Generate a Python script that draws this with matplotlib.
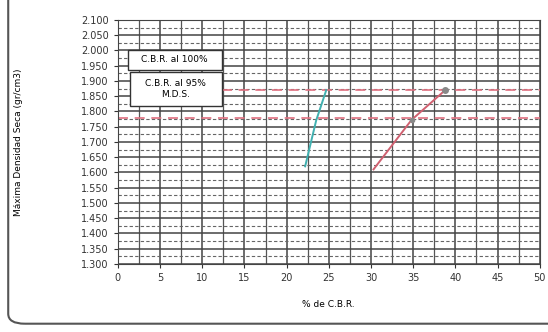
import matplotlib.pyplot as plt
from matplotlib.patches import FancyBboxPatch, Rectangle
import numpy as np

# CBR (%) vs dry density (g/cm3)
cbr_a = [22.2, 23.5, 24.7]
dens_a = [1.620, 1.770, 1.870]
cbr_b = [30.3, 34.8, 38.8]
dens_b = [1.610, 1.772, 1.870]
mds = 1.870
mds_95 = 1.778

xticks = np.arange(0, 51, 5)
yticks = np.arange(1.30, 2.101, 0.05)

fig = plt.figure(figsize=(5.48, 3.32), dpi=100)
ax = fig.add_axes([0.215, 0.205, 0.77, 0.735])

ax.set_xlim(0, 50)
ax.set_ylim(1.30, 2.10)
ax.set_xticks(xticks)
ax.set_yticks(yticks)
ax.set_yticklabels(["%.3f" % v for v in yticks])
ax.set_xticks(np.arange(2.5, 50, 5), minor=True)
ax.set_yticks(np.arange(1.325, 2.10, 0.05), minor=True)
ax.tick_params(labelsize=7, length=3, colors='#333333')
ax.tick_params(which='minor', length=0)
ax.grid(True, which='major', color='#444444', lw=1.1)
ax.xaxis.grid(True, which='minor', color='#555555', lw=0.9)
ax.yaxis.grid(True, which='minor', color='#666666', lw=0.8, ls=(0, (3, 2)))
ax.set_axisbelow(True)
for s in ax.spines.values():
    s.set_color('#444444')

ax.axhline(mds, xmin=0.246, color='#e07080', ls=(0, (6, 4)), lw=1.2)
ax.axhline(mds_95, color='#e07080', ls=(0, (6, 4)), lw=1.2)

ax.plot(cbr_a, dens_a, color='#40b0b0', lw=1.4)
ax.plot(cbr_b, dens_b, color='#d06070', lw=1.4)
ax.plot(cbr_b[-1], dens_b[-1], 'o', color='#888888', ms=4)
ax.plot(cbr_b[1], dens_b[1], 'o', color='#888888', ms=3)

# label boxes
ax.add_patch(Rectangle((0.024, 0.795), 0.222, 0.082, transform=ax.transAxes,
                       fc='white', ec='#333333', lw=1.0, zorder=5))
ax.text(0.135, 0.836, "C.B.R. al 100%", transform=ax.transAxes, fontsize=6.5,
        va='center', ha='center', zorder=6)
ax.add_patch(Rectangle((0.028, 0.648), 0.218, 0.139, transform=ax.transAxes,
                       fc='white', ec='#333333', lw=1.0, zorder=5))
ax.text(0.137, 0.718, "C.B.R. al 95%\nM.D.S.", transform=ax.transAxes, fontsize=6.5,
        va='center', ha='center', linespacing=1.3, zorder=6)

ax.set_ylabel("Máxima Densidad Seca (gr/cm3)", fontsize=6.5, labelpad=42)
ax.set_xlabel("% de C.B.R.", fontsize=6.5, labelpad=12)

frame = FancyBboxPatch((0.015, 0.025), 1.2, 1.2, boxstyle='round,pad=0,rounding_size=0.03',
                       transform=fig.transFigure, fill=False, ec='#555555', lw=1.5,
                       clip_on=False)
fig.patches.append(frame)

fig.savefig("out.png", dpi=100)
